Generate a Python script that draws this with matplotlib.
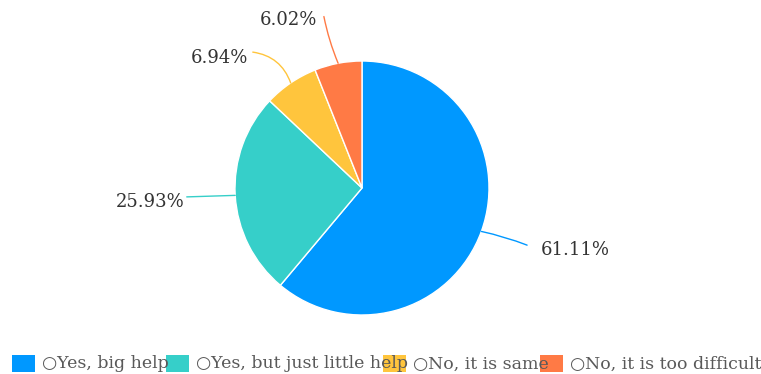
import numpy as np
import matplotlib.pyplot as plt
from matplotlib.patches import Rectangle

# survey answers and their shares
labels = ["Yes, big help", "Yes, but just little help", "No, it is same", "No, it is too difficult"]
shares = [61.11, 25.93, 6.94, 6.02]
colors = ["#0098ff", "#36cfc9", "#ffc53d", "#ff7a45"]

# leader line ends and text anchors (axes data units, radius = 1)
line_end = [(1.30, -0.45), (-1.38, -0.07), (-0.86, 1.07), (-0.30, 1.35)]
text_at = [(1.41, -0.49), (-1.40, -0.11), (-0.90, 1.02), (-0.35, 1.32)]
line_rad = [0.04, 0.0, -0.3, 0.05]

W, H = 761, 374
fig = plt.figure(figsize=(W / 100, H / 100), dpi=100)
cx, cy, r = 362, 188, 127
ax = fig.add_axes([(cx - r) / W, (H - cy - r) / H, 2 * r / W, 2 * r / H])

wedges, _ = ax.pie(shares, colors=colors, startangle=90, counterclock=False,
                   radius=1, wedgeprops=dict(edgecolor="white", linewidth=1))
ax.set_xlim(-1, 1)
ax.set_ylim(-1, 1)
ax.set_aspect("equal")
ax.axis("off")

font = ["DejaVu Serif", "DejaVu Sans"]
for w, val, col, (lx, ly), (tx, ty), rad in zip(wedges, shares, colors,
                                                 line_end, text_at, line_rad):
    mid = np.deg2rad((w.theta1 + w.theta2) / 2)
    px, py = np.cos(mid), np.sin(mid)
    ax.annotate("", xy=(px, py), xytext=(lx, ly), annotation_clip=False,
                arrowprops=dict(arrowstyle="-", color=col, lw=1,
                                connectionstyle=f"arc3,rad={rad}",
                                shrinkA=0, shrinkB=0))
    ax.text(tx, ty, f"{val:.2f}%", ha="left" if tx > 0 else "right", va="center",
            fontsize=13, color="#333333", family=font, clip_on=False)

# legend drawn left to right; each swatch lands on top of the previous text
leg_x = [12, 166, 383, 540]
for x, lab, col in zip(leg_x, labels, colors):
    fig.patches.append(Rectangle((x / W, (H - 372) / H), 23 / W, 17 / H,
                                 transform=fig.transFigure, facecolor=col,
                                 edgecolor="none", figure=fig))
    fig.text((x + 30) / W, (H - 364) / H, "\u25cb" + lab, ha="left", va="center",
             fontsize=12.5, color="#595959", family=font)

fig.savefig("out.png", dpi=100, facecolor="white")
